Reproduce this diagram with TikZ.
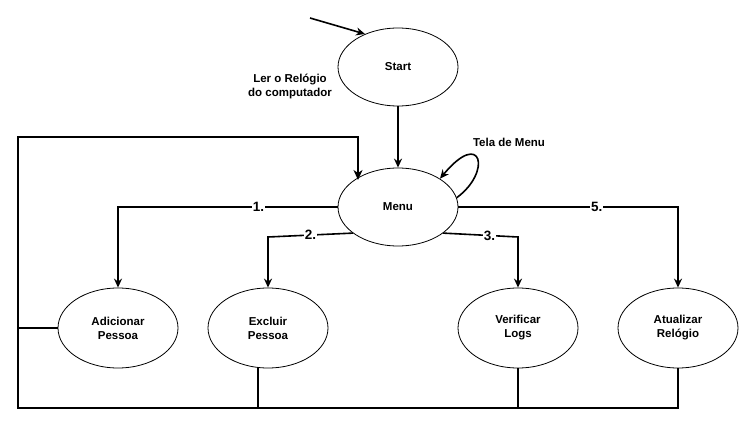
\documentclass[tikz,border=0pt]{standalone}
\usepackage{fontspec}
\setmainfont{Liberation Sans}
\usetikzlibrary{arrows.meta,shapes.geometric}
\begin{document}
\begin{tikzpicture}[x=1pt,y=-1pt,
  state/.style={draw,ellipse,line width=0.8pt,minimum width=120pt,minimum height=78pt,inner sep=0pt,align=center,font=\fontsize{11.5}{14}\selectfont\bfseries},
  edge/.style={line width=1.6pt,-{Stealth[length=9pt,width=8pt,inset=3pt]}},
  plain/.style={line width=1.6pt},
  thick loop/.style={line width=2.6pt},
  lbl/.style={fill=white,inner sep=1pt,font=\fontsize{13.5}{15}\selectfont\bfseries},
  txt/.style={align=center,font=\fontsize{11.5}{14}\selectfont\bfseries}]
\useasboundingbox[fill=white] (0,0) rectangle (749,427);
\node[state] (start) at (398,67) {Start};
\node[state] (menu) at (398,207) {Menu};
\node[state,minimum height=80pt] (add) at (118,328) {Adicionar\\Pessoa};
\node[state,minimum height=80pt] (exc) at (268,328) {Excluir\\Pessoa};
\node[state,minimum height=80pt] (ver) at (518,328) {Verificar\\Logs};
\node[state,minimum height=80pt] (atu) at (678,328) {Atualizar\\Relógio};
\node[txt] (ler) at (290,86) {Ler o Relógio\\do computador};
\node[txt] (tela) at (509,142) {Tela de Menu};
\coordinate (init) at (310,18);
% initial arrow
\draw[edge] (init) -- (start.135);
\draw[edge] (start) -- (menu);
% self loop
\draw[edge] (menu.9) .. controls (492,172) and (482,128) .. (menu.34);
% branches
\draw[edge] (menu.west) -- (118,207) node[lbl,pos=0.36] {1.} -- (add.north);
\draw[edge] (menu.-150) -- (268,237) node[lbl,pos=0.5] {2.} -- (exc.north);
\draw[edge] (menu.-30) -- (518,237) node[lbl,pos=0.62] {3.} -- (ver.north);
\draw[edge] (menu.east) -- (678,207) node[lbl,pos=0.63] {5.} -- (atu.north);
% return paths
\coordinate (bl) at (18,408);
\coordinate (tl) at (18,137);
\coordinate (tr) at (358,137);
\draw[plain] (add.west) -- (18,328);
\draw[plain] (exc.south) ++(-10,-0.6) -- (258,408);
\draw[plain] (ver.south) -- (518,408);
\draw[plain] (atu.south) -- (678,408) -- (518,408);
\draw[thick loop,-{Stealth[length=10pt,width=9pt,inset=3pt]}] (518,408) -- (bl) -- (tl) -- (tr) -- (358,180);
\end{tikzpicture}
\end{document}
